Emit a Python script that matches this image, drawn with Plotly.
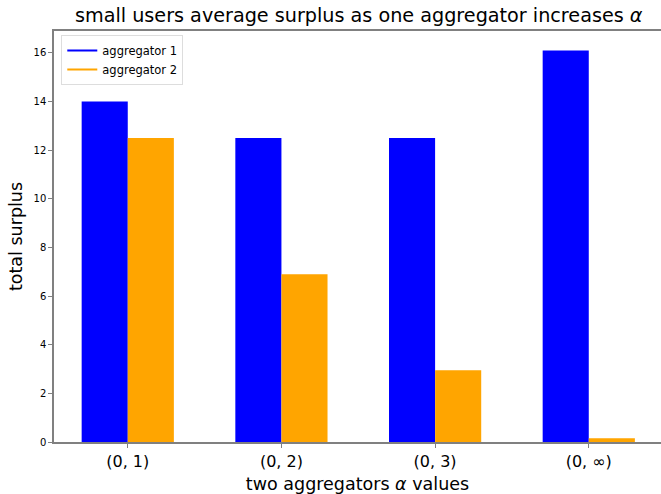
import plotly.graph_objects as go

categories = ["(0, 1)", "(0, 2)", "(0, 3)", "(0, ∞)"]
agg1 = [14.0, 12.5, 12.5, 16.1]
agg2 = [12.5, 6.9, 2.95, 0.15]
series_names = ["aggregator 1", "aggregator 2"]
colors = ["blue", "orange"]

xpos = list(range(len(categories)))
fig = go.Figure()
for name, vals, c in zip(series_names, [agg1, agg2], colors):
    fig.add_trace(go.Bar(x=xpos, y=vals, name=name, marker=dict(color=c, line=dict(width=0)),
                         showlegend=False))
for name, c in zip(series_names, colors):
    fig.add_trace(go.Scatter(x=[None], y=[None], mode="lines", name=name,
                             line=dict(color=c, width=2)))

font = "DejaVu Sans"
fig.update_layout(
    width=661, height=494,
    margin=dict(l=54, r=0, t=31, b=52),
    paper_bgcolor="white", plot_bgcolor="white",
    barmode="group", bargap=0.4, bargroupgap=0,
    font=dict(family=font, color="black"),
    title=dict(text="small users average surplus as one aggregator increases <i>α</i>",
               x=0.502, xanchor="center", xref="paper", y=0.97, yanchor="middle",
               font=dict(size=19.2, color="black")),
    xaxis=dict(range=[-0.48, 3.47], tickvals=xpos, ticktext=categories,
               showline=True, linecolor="#808080", linewidth=1.5, mirror=True,
               ticks="outside", ticklen=4, tickcolor="#808080", ticklabelstandoff=0,
               showgrid=False, zeroline=False, tickfont=dict(size=16),
               title=dict(text="two aggregators <i>α</i> values", font=dict(size=17.5), standoff=8)),
    yaxis=dict(range=[0, 16.9], tickvals=[0, 2, 4, 6, 8, 10, 12, 14, 16],
               showline=True, linecolor="#808080", linewidth=1.5, mirror=False,
               ticks="outside", ticklen=4, tickcolor="#808080",
               showgrid=False, zeroline=False, tickfont=dict(size=10),
               title=dict(text="total surplus", font=dict(size=17.5), standoff=6)),
    legend=dict(x=0.012, y=0.99, xanchor="left", yanchor="top",
                bgcolor="rgba(255,255,255,0.8)", bordercolor="#dddddd", borderwidth=1,
                font=dict(size=11.5), tracegroupgap=0),
)
fig.write_html("out.html", config={"displayModeBar": False},
               post_script="document.body.style.margin='0';document.body.style.padding='0';")
